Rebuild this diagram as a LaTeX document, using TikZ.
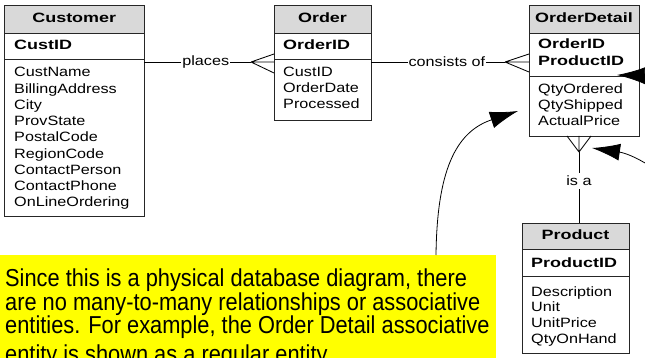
\documentclass[tikz,border=0pt]{standalone}
\usepackage{fontspec}
\setmainfont{Liberation Sans}
\newfontfamily\attrfont[FakeStretch=1.2]{Liberation Sans}
\newfontfamily\keyfont[FakeStretch=1.33]{Liberation Sans Bold}
\newfontfamily\notefont[FakeStretch=0.89]{Liberation Sans}
\usetikzlibrary{arrows.meta}
\definecolor{hdrgray}{HTML}{D9D9D9}
\definecolor{notey}{HTML}{FFFF00}
\tikzset{
  ebox/.style={draw=black!85, line width=0.8pt, anchor=north west, inner sep=0pt, outer sep=0pt},
  hbox/.style={ebox, fill=hdrgray},
  sepline/.style={draw=black!85, line width=0.8pt},
  hdr/.style={anchor=base, inner sep=0pt, font=\keyfont\fontsize{13.5}{16}\selectfont},
  keyt/.style={anchor=base west, inner sep=0pt, font=\keyfont\fontsize{13.5}{16}\selectfont},
  attr/.style={anchor=base west, inner sep=0pt, font=\attrfont\fontsize{13.5}{16}\selectfont},
  conn/.style={draw=black, line width=0.85pt},
  lbl/.style={fill=white, inner xsep=1pt, inner ysep=2pt, font=\attrfont\fontsize{13.5}{16}\selectfont},
  arr/.style={draw=black, line width=0.8pt, -{Latex[length=28pt,width=17pt]}},
  notet/.style={anchor=base west, inner sep=0pt, font=\notefont\fontsize{24.5}{24}\selectfont}
}
\begin{document}
\begin{tikzpicture}[x=1pt,y=-1pt]
\useasboundingbox (0,0) rectangle (645,358);
\clip (0,0) rectangle (645,358);
\fill[white] (0,0) rectangle (645,358);

% ---------- Customer ----------
\node[ebox, minimum width=139.5pt, minimum height=211.5pt] (cust) at (4.5,5) {};
\node[hbox, minimum width=139.5pt, minimum height=28pt] (custh) at (4.5,5) {};
\draw[sepline] (4.5,59) -- (144,59);
\node[hdr] (custt) at (74.25,22.7) {Customer};
\node[keyt] (custk) at (14,50) {CustID};
\foreach \t [count=\i from 0] in {CustName,BillingAddress,City,ProvState,PostalCode,RegionCode,ContactPerson,ContactPhone,OnLineOrdering}
  \node[attr] (custa\i) at (14,77+16.25*\i) {\t};

% ---------- Order ----------
\node[ebox, minimum width=97pt, minimum height=115pt] (ord) at (274,5) {};
\node[hbox, minimum width=97pt, minimum height=28pt] (ordh) at (274,5) {};
\draw[sepline] (274,59) -- (371,59);
\node[hdr] (ordt) at (322.5,22.7) {Order};
\node[keyt] (ordk) at (283,50) {OrderID};
\foreach \t [count=\i from 0] in {CustID,OrderDate,Processed}
  \node[attr] (orda\i) at (283,77+16*\i) {\t};

% ---------- OrderDetail ----------
\node[ebox, minimum width=110pt, minimum height=131pt] (odet) at (529,5) {};
\node[hbox, minimum width=110pt, minimum height=28pt] (odeth) at (529,5) {};
\draw[sepline] (529,76) -- (639,76);
\node[hdr] (odett) at (584,22.7) {OrderDetail};
\node[keyt] (odetk1) at (538,49) {OrderID};
\node[keyt] (odetk2) at (538,65.5) {ProductID};
\foreach \t [count=\i from 0] in {QtyOrdered,QtyShipped,ActualPrice}
  \node[attr] (odeta\i) at (538,93.5+16*\i) {\t};

% ---------- Product ----------
\node[ebox, minimum width=107pt, minimum height=130pt] (prod) at (522,223) {};
\node[hbox, minimum width=107pt, minimum height=26pt] (prodh) at (522,223) {};
\draw[sepline] (522,276) -- (629,276);
\node[hdr] (prodt) at (575.5,240) {Product};
\node[keyt] (prodk) at (531,267) {ProductID};
\foreach \t [count=\i from 0] in {Description,Unit,UnitPrice,QtyOnHand}
  \node[attr] (proda\i) at (531,296+15.7*\i) {\t};

% ---------- relationships ----------
\coordinate (cf1) at (251,62);
\draw[conn] (cust.east |- cf1) -- node[lbl, anchor=west, pos=0.345] (lplaces) {places\hspace{7pt}} (cf1);
\draw[conn] (cf1) -- (ord.west |- 0,54) (cf1) -- (ord.west |- cf1) (cf1) -- (ord.west |- 0,73);

\coordinate (cf2) at (505,62);
\draw[conn] (ord.east |- cf2) -- node[lbl, anchor=west, pos=0.27] (lconsists) {consists of\hspace{7pt}} (cf2);
\draw[conn] (cf2) -- (odet.west |- 0,54) (cf2) -- (odet.west |- cf2) (cf2) -- (odet.west |- 0,72);

\coordinate (cf3) at (579,152);
\draw[conn] (cf3) -- (567,136) (cf3) -- (579,136) (cf3) -- (591,136);
\draw[conn] (cf3) -- node[lbl, pos=0.41, inner ysep=3pt] (lisa) {is a} (prod.north -| cf3);

% ---------- note ----------
\fill[notey] (0,255) rectangle (496,370);
\node[notet] (n1) at (5,286.7) {Since this is a physical database diagram, there};
\node[notet] (n2) at (5,310) {are no many-to-many relationships or associative};
\node[notet] (n3) at (5,333.3) {entities. For example, the Order Detail associative};
\node[notet] (n4) at (5,362) {entity is shown as a regular entity.};

% ---------- arrows ----------
\coordinate (a3s) at (436,255);
\coordinate (a3t) at (518,111);
\draw[arr] (a3s) .. controls (437,172) and (455,132) .. (a3t);

\coordinate (a1s) at (700,77);
\coordinate (a1t) at (617,75);
\draw[arr] (a1s) -- (a1t);

\coordinate (a2s) at (670,180);
\coordinate (a2t) at (592,148);
\draw[arr] (a2s) .. controls (655,168) and (632,154) .. (a2t);
\end{tikzpicture}
\end{document}
